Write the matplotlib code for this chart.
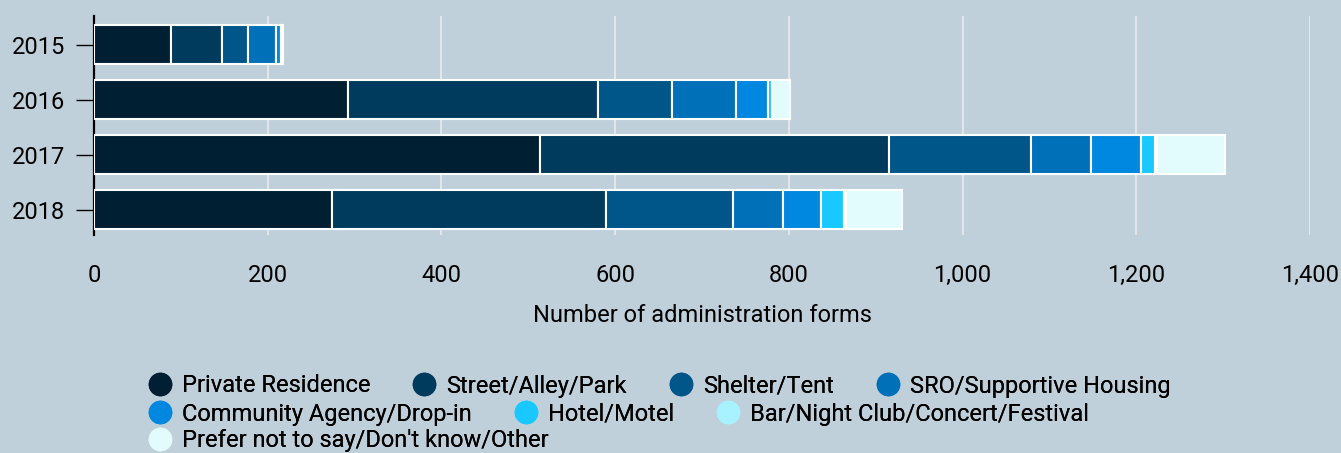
import matplotlib.pyplot as plt
from matplotlib.lines import Line2D
from matplotlib.ticker import FuncFormatter

plt.rcParams['font.family'] = ['Roboto', 'DejaVu Sans']

years = ['2015', '2016', '2017', '2018']
categories = ['Private Residence', 'Street/Alley/Park', 'Shelter/Tent', 'SRO/Supportive Housing',
              'Community Agency/Drop-in', 'Hotel/Motel', 'Bar/Night Club/Concert/Festival',
              'Prefer not to say/Don\'t know/Other']
values = {
    'Private Residence': [89, 292, 513, 274],
    'Street/Alley/Park': [58, 288, 402, 315],
    'Shelter/Tent': [30, 85, 164, 147],
    'SRO/Supportive Housing': [32, 74, 69, 57],
    'Community Agency/Drop-in': [6, 37, 57, 44],
    'Hotel/Motel': [1, 5, 16, 26],
    'Bar/Night Club/Concert/Festival': [0, 0, 3, 3],
    'Prefer not to say/Don\'t know/Other': [2, 20, 78, 64],
}
colors = ['#001f33', '#003a5d', '#005589', '#0070b8', '#0088e0', '#18c8ff', '#a8f2ff', '#e2fcfe']
bg = '#bfd0db'

fig = plt.figure(figsize=(13.41, 4.53), dpi=100, facecolor=bg)
ax = fig.add_axes([0.0701, 0.481, 0.9068, 0.484], facecolor=bg)

left = [0] * len(years)
for cat, col in zip(categories, colors):
    vals = values[cat]
    ax.barh(range(len(years)), vals, left=left, height=0.7, color=col,
            edgecolor='white', linewidth=1.5, zorder=3)
    left = [a + b for a, b in zip(left, vals)]

ax.set_xlim(0, 1400)
ax.set_ylim(3.46, -0.52)
ax.set_yticks(range(len(years)))
ax.set_yticklabels(years)
ax.set_xticks(range(0, 1401, 200))
ax.xaxis.set_major_formatter(FuncFormatter(lambda v, p: f'{int(v):,}'))
ax.grid(axis='x', color='#e2e6e9', linewidth=1.5, zorder=0)
for s in ['top', 'right', 'bottom']:
    ax.spines[s].set_visible(False)
ax.spines['left'].set_linewidth(1.6)
ax.tick_params(axis='y', length=13, width=1.0, labelsize=17, pad=8)
ax.tick_params(axis='x', length=0, labelsize=17, pad=21)
ax.set_xlabel('Number of administration forms', fontsize=17, labelpad=12)

handles = [Line2D([], [], marker='o', linestyle='', markersize=16, markerfacecolor=c,
                  markeredgecolor=c) for c in colors]
rows = [(0, 4), (4, 7), (7, 8)]
row_y = [386, 414, 441]
for (a, b), yy in zip(rows, row_y):
    leg = fig.legend(handles[a:b], categories[a:b], ncol=b - a, frameon=False,
                     loc='center left', bbox_to_anchor=(148 / 1341, 1 - yy / 453),
                     fontsize=17, handlelength=1.0, handletextpad=0.44, columnspacing=1.78,
                     borderpad=0, borderaxespad=0)
    fig.add_artist(leg)

fig.savefig('out.png', dpi=100, facecolor=bg)
